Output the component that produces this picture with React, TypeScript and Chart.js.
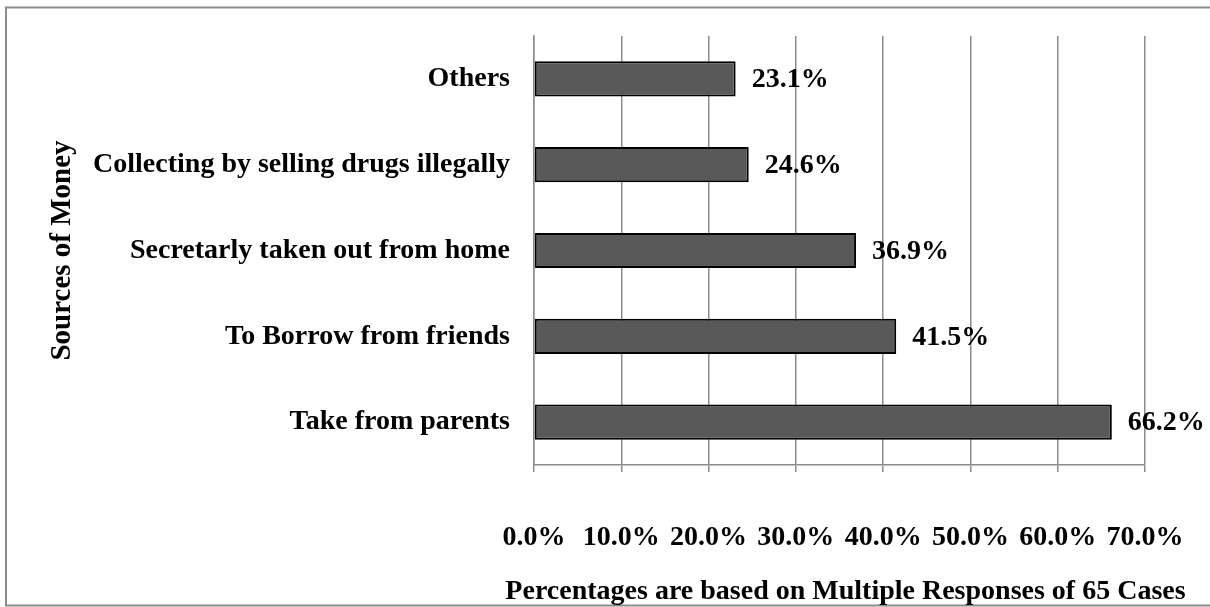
import React, { useEffect, useRef } from "react";
import { Chart, registerables } from "chart.js";

Chart.register(...registerables);

const categories: string[] = [
  "Others",
  "Collecting by selling drugs illegally",
  "Secretarly taken out from home",
  "To Borrow from friends",
  "Take from parents",
];
const percentages: number[] = [23.1, 24.6, 36.9, 41.5, 66.2];
const xTitle = "Percentages are based on Multiple Responses of 65 Cases";
const yTitle = "Sources of Money";

const FONT = "'Liberation Serif', 'Times New Roman', serif";
const GRID = "#8c8c8c";

const framePlugin = {
  id: "frame",
  beforeDraw(chart: any) {
    const ctx = chart.ctx;
    ctx.save();
    ctx.fillStyle = "#ffffff";
    ctx.fillRect(0, 0, chart.width, chart.height);
    ctx.strokeStyle = "#8c8c8c";
    ctx.lineWidth = 2;
    ctx.strokeRect(6, 7.5, 1220, 598);
    ctx.restore();
  },
};

const labelPlugin = {
  id: "barLabels",
  afterDatasetsDraw(chart: any) {
    const ctx = chart.ctx;
    const meta = chart.getDatasetMeta(0);
    ctx.save();
    ctx.font = `bold 28px ${FONT}`;
    ctx.fillStyle = "#000";
    ctx.textAlign = "left";
    ctx.textBaseline = "middle";
    meta.data.forEach((bar: any, i: number) => {
      const v = percentages[i];
      ctx.fillText(v.toFixed(1) + "%", bar.x + 16, bar.y + 1);
    });
    // x axis title (drawn without width compression)
    const area = chart.chartArea;
    ctx.font = `bold 28px ${FONT}`;
    ctx.textAlign = "center";
    ctx.textBaseline = "middle";
    ctx.fillText(xTitle, (area.left + area.right) / 2 + 6, chart.height - 15);
    ctx.restore();
  },
};

export default function App() {
  const ref = useRef<HTMLCanvasElement | null>(null);
  useEffect(() => {
    if (!ref.current) return;
    const chart = new Chart(ref.current, {
      type: "bar",
      data: {
        labels: categories,
        datasets: [
          {
            data: percentages,
            backgroundColor: "#595959",
            borderColor: "#000000",
            borderWidth: 2,
            borderSkipped: false,
            barPercentage: 0.41,
            categoryPercentage: 1,
          },
        ],
      },
      options: {
        indexAxis: "y",
        responsive: false,
        animation: false,
        maintainAspectRatio: false,
        layout: { padding: { left: 30, right: 65, top: 36, bottom: 0 } },
        plugins: {
          legend: { display: false },
          tooltip: { enabled: false },
        },
        scales: {
          x: {
            min: 0,
            max: 70,
            afterFit: (s: any) => {
              s.height = 142;
              s.paddingLeft = 0;
              s.paddingRight = 0;
            },
            ticks: {
              stepSize: 10,
              padding: 48.5,
              color: "#000",
              font: { family: FONT, size: 28, weight: "bold" },
              callback: (v: any) => Number(v).toFixed(1) + "%",
            },
            grid: {
              color: GRID,
              lineWidth: 1.5,
              tickLength: 7,
              drawTicks: true,
            },
            border: { display: true, color: GRID, width: 1.5 },
            title: { display: false, text: xTitle },
          },
          y: {
            afterFit: (s: any) => {
              s.width = 534 - 30;
              s.paddingTop = 0;
              s.paddingBottom = 0;
            },
            ticks: {
              padding: 24,
              color: "#000",
              font: { family: FONT, size: 28, weight: "bold" },
            },
            grid: { display: false, drawTicks: false },
            border: { display: true, color: GRID, width: 1.5 },
            title: {
              display: true,
              text: yTitle,
              color: "#000",
              font: { family: FONT, size: 29, weight: "bold" },
              padding: { top: 15.5, bottom: 0 },
            },
          },
        },
      },
      plugins: [framePlugin, labelPlugin],
    } as any);
    return () => chart.destroy();
  }, []);
  return (
    <div style={{ position: "fixed", left: 0, top: 0, width: 1210, height: 607 }}>
      <canvas ref={ref} width={1210} height={607} style={{ display: "block" }} />
    </div>
  );
}
